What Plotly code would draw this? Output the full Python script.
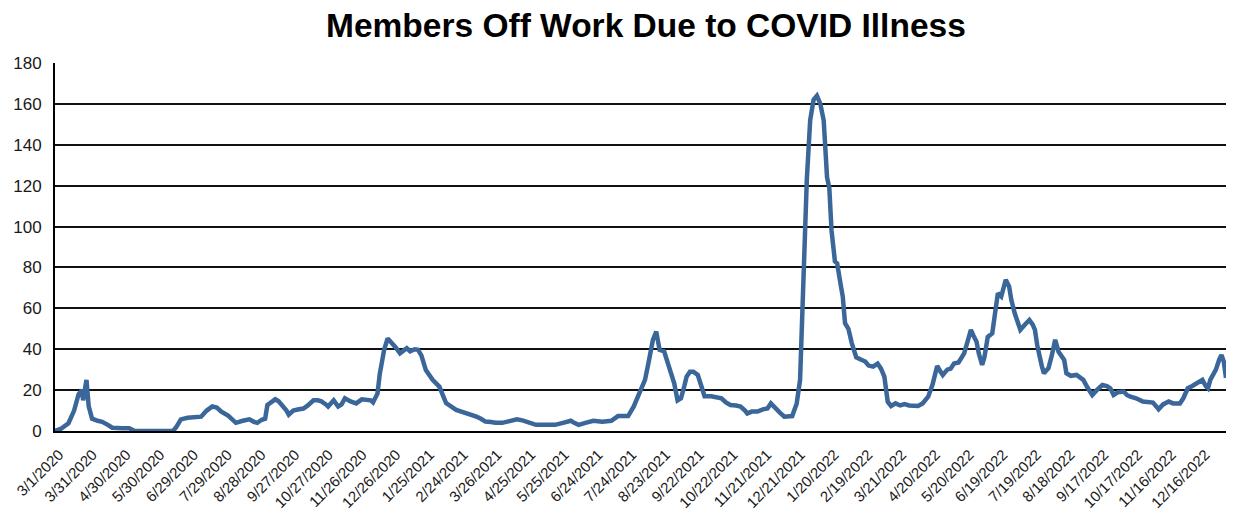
import pandas as pd
import plotly.graph_objects as go

# Days since 3/1/2020 and members off work
day_offset = [
    0, 5, 12, 17, 21, 24, 25, 27, 28, 30, 33, 38, 42, 47, 51, 60, 66, 71, 80, 90,
    105, 108, 112, 118, 124, 130, 135, 140, 144, 148, 154, 161, 167, 173, 177, 180,
    184, 187, 189, 193, 196, 199, 202, 206, 208, 212, 216, 221, 225, 230, 234, 237,
    241, 243, 248, 252, 255, 258, 263, 268, 273, 278, 281, 283, 287, 289, 293, 296,
    300, 303, 307, 310, 313, 316, 320, 323, 326, 330, 336, 342, 345, 348, 357, 362,
    366, 370, 375, 379, 383, 388, 392, 398, 405, 411, 416, 420, 428, 435, 445, 452, 459,
    462, 466, 472, 479, 487, 495, 501, 506, 510, 515, 519, 522, 525, 528, 532, 535,
    538, 542, 545, 547, 549, 551, 554, 557, 560, 562, 565, 568, 572, 575, 578, 584,
    588, 593, 597, 601, 606, 610, 614, 616, 620, 625, 630, 634, 637, 641, 645, 649,
    653, 656, 660, 663, 666, 669, 672, 675, 678, 681, 684, 687, 689, 691, 694, 696,
    699, 701, 703, 706, 709, 713, 717, 721, 724, 728, 732, 735, 738, 741, 744, 748,
    752, 756, 760, 764, 768, 772, 777, 781, 785, 788, 790, 794, 797, 800, 804, 809,
    812, 815, 817, 820, 822, 825, 827, 830, 834, 836, 839, 842, 846, 849, 851, 854,
    857, 859, 863, 867, 870, 872, 874, 876, 878, 880, 884, 887, 890, 893, 896, 898,
    900, 904, 909, 912, 915, 919, 923, 927, 932, 936, 939, 942, 946, 951, 954, 957,
    962, 968, 972, 977, 980, 982, 986, 991, 995, 1001, 1004, 1008, 1012, 1016, 1019,
    1021, 1024, 1026, 1028, 1030, 1033, 1036, 1038, 1040, 1042,
]
members_off = [
    0, 1, 3.8, 10, 18, 20, 15, 22, 25, 12, 6, 5, 4.5, 3, 1.6, 1.4, 1.3, 0, 0, 0,
    0, 2, 5.7, 6.5, 6.5, 7, 10, 12, 11.5, 9.5, 7.5, 4, 5, 5.7, 4.5, 4,
    5.5, 6, 12.7, 14, 15.5, 14.5, 12.7, 10, 8, 10, 10.5, 11, 12.5, 15, 15, 14.5,
    13, 12, 15, 12, 13, 16, 14.5, 13.5, 15.5, 15.5, 15, 14, 18.4, 28, 40, 45.3,
    43, 41, 38, 39, 40.5, 39, 40, 39.7, 37, 29.8, 25, 21.7, 17, 13.7, 10.3, 9.5,
    9, 8, 7, 6, 4.6, 4.4, 4, 4, 4.8, 5.7, 5.2, 4.6, 3, 3, 3, 4, 5,
    4, 3, 4, 5, 4.5, 5, 7.3, 7.5, 7.3, 12, 17, 20, 25, 33, 44.5, 48.6,
    39.7, 39, 34, 30, 27, 23.3, 15, 16, 22, 26.6, 29, 29, 27.4, 22, 17, 17,
    16.5, 16, 14, 12.7, 12.5, 12, 10, 8.6, 9.5, 9.5, 10.6, 11, 13.5, 11, 9, 7,
    7, 7.3, 13.5, 25, 74, 123, 152, 162, 164, 160, 152, 124, 119, 98, 83, 82,
    72, 65.7, 52.7, 50, 43, 36, 35, 34, 32, 31.5, 33, 30.5, 26.6, 14.3, 12.2, 13.5,
    12.5, 13.2, 12.5, 12.5, 12.2, 13.5, 16.8, 23, 31.8, 29, 27.4, 30, 30.5, 33, 33.5, 38,
    44, 49.5, 47, 43.7, 38, 32.3, 36, 46, 47.8, 55, 67.4, 65.8, 74, 70.7, 64, 57.6,
    53, 49.5, 52, 54.3, 52, 49.5, 42, 36.4, 32, 28.2, 30.7, 37, 44.6, 38.8, 36, 34.8,
    28.2, 27, 27.4, 26, 25, 21, 17.6, 20, 22.5, 22, 20.9, 17.6, 19, 19.3, 17.5, 16.8,
    16, 14.4, 14, 13.9, 12, 10.6, 13, 14.4, 13.5, 13.5, 16, 20.9, 22, 23.3, 24,
    25, 22, 20.9, 25, 27.4, 30, 35, 37.2, 34, 26,
]

tick_labels = [
    "3/1/2020", "3/31/2020", "4/30/2020", "5/30/2020", "6/29/2020", "7/29/2020",
    "8/28/2020", "9/27/2020", "10/27/2020", "11/26/2020", "12/26/2020", "1/25/2021",
    "2/24/2021", "3/26/2021", "4/25/2021", "5/25/2021", "6/24/2021", "7/24/2021",
    "8/23/2021", "9/22/2021", "10/22/2021", "11/21/2021", "12/21/2021", "1/20/2022",
    "2/19/2022", "3/21/2022", "4/20/2022", "5/20/2022", "6/19/2022", "7/19/2022",
    "8/18/2022", "9/17/2022", "10/17/2022", "11/16/2022", "12/16/2022",
]
y_ticks = [0, 20, 40, 60, 80, 100, 120, 140, 160, 180]

start = pd.Timestamp("2020-03-01")
dates = start + pd.to_timedelta(day_offset, unit="D")
tick_vals = pd.to_datetime(tick_labels, format="%m/%d/%Y")

fig = go.Figure()
fig.add_trace(go.Scatter(
    x=dates, y=members_off, mode="lines",
    line=dict(color="#3B6699", width=4.5),
    hoverinfo="x+y",
))

# The page body has an 8px default margin; margins are offset by 8px.
fig.update_layout(
    width=1227, height=509,
    margin=dict(l=47, r=9, t=55, b=86, autoexpand=False),
    paper_bgcolor="white", plot_bgcolor="white",
    showlegend=False,
    title=dict(
        text="<b>Members Off Work Due to COVID Illness</b>",
        x=0.5199, xanchor="center", y=0.9666, yanchor="middle",
        font=dict(family="Liberation Sans, Arial, sans-serif", size=33.5, color="black"),
    ),
    font=dict(family="Liberation Sans, Arial, sans-serif", color="#1a1a1a"),
)
fig.update_xaxes(
    type="date",
    range=[dates[0], dates[-1]],
    tickvals=tick_vals, ticktext=tick_labels,
    tickangle=-45, tickfont=dict(size=15),
    showgrid=False, zeroline=False,
    showline=True, linecolor="black", linewidth=2,
    ticks="", ticklabelstandoff=7, ticklabelshift=4,
    automargin=False,
)
fig.update_yaxes(
    range=[0, 180], tickvals=y_ticks,
    tickfont=dict(size=17),
    showgrid=True, gridcolor="#111111", gridwidth=1.6,
    zeroline=False,
    showline=True, linecolor="black", linewidth=2,
    ticks="", ticklabelstandoff=8,
    automargin=False,
)

fig.write_html("out.html")
